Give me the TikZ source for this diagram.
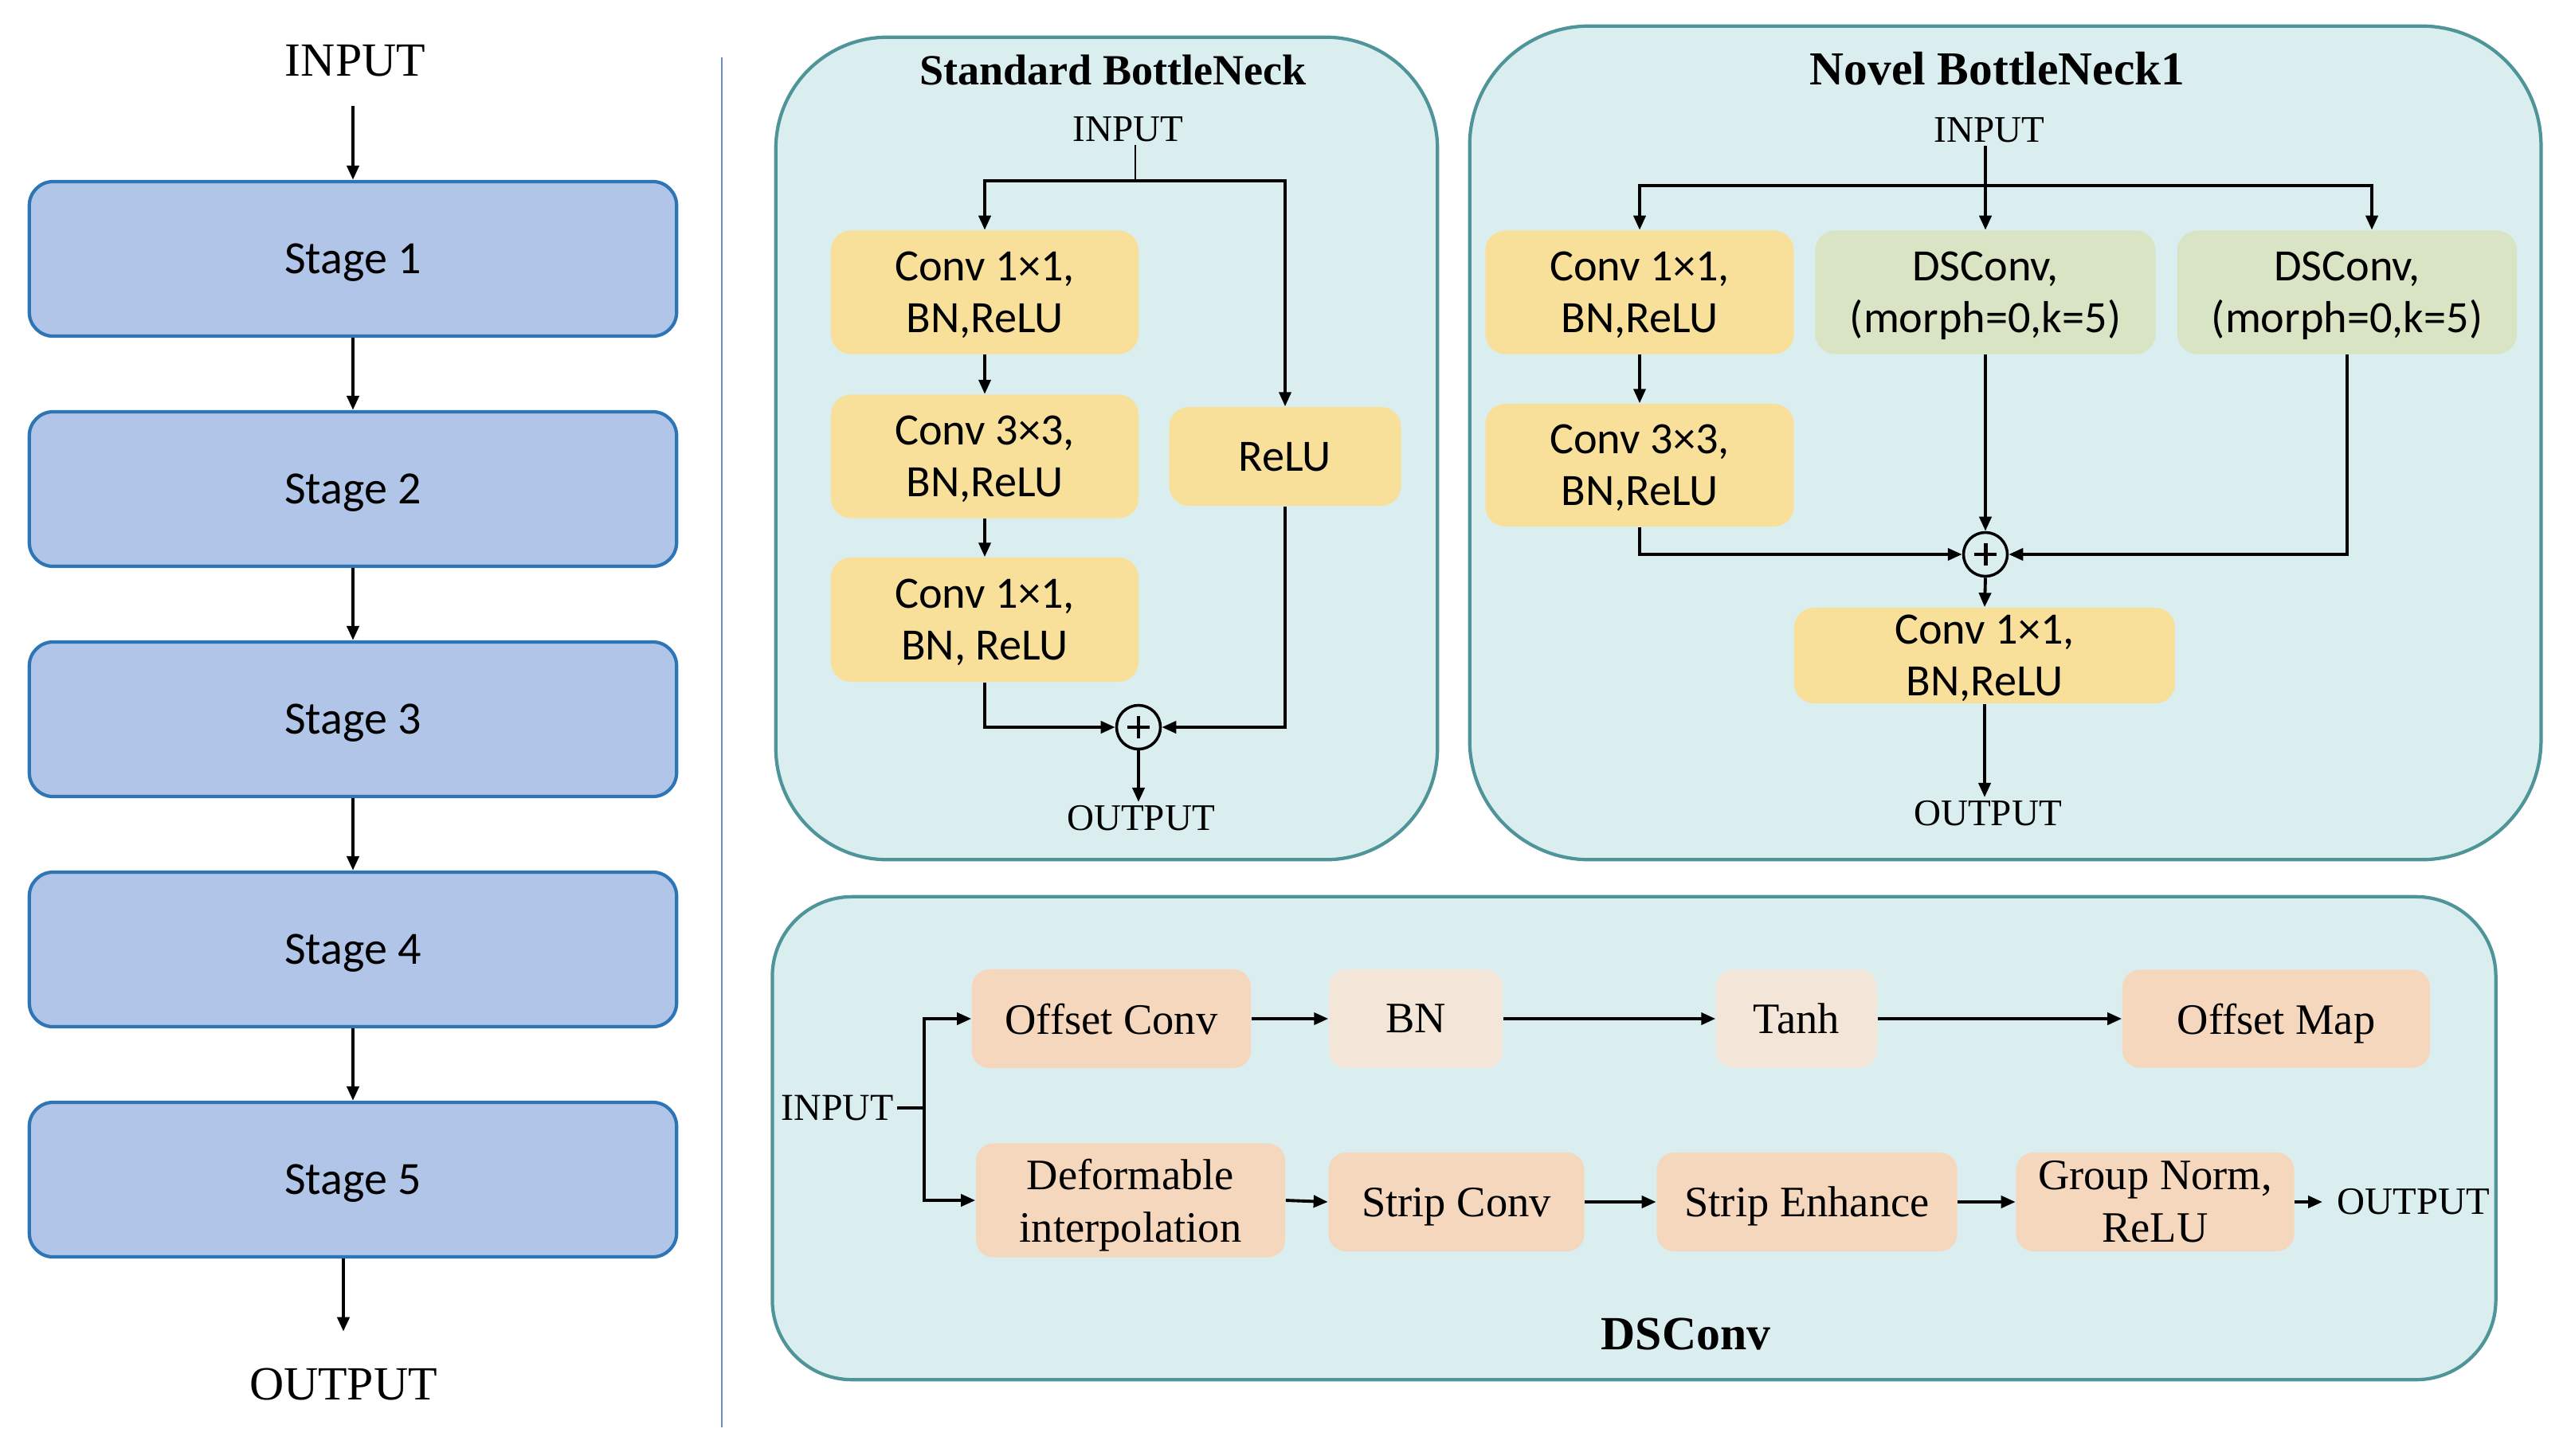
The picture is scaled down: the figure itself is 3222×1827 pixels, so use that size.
\documentclass[tikz,border=0pt]{standalone}
\usepackage{fontspec}
\setmainfont{Liberation Serif}
\newfontfamily\calfont{Carlito}
\usetikzlibrary{arrows.meta}
\definecolor{stagefill}{HTML}{B0C5E7}
\definecolor{stagedraw}{HTML}{2E75B6}
\definecolor{panelfill}{HTML}{DAEEF0}
\definecolor{paneldraw}{HTML}{4E9499}
\definecolor{yel}{HTML}{F8E09A}
\definecolor{grn}{HTML}{D8E4C3}
\definecolor{pch}{HTML}{F5D7BE}
\definecolor{lpch}{HTML}{F3E6D8}
\definecolor{divline}{HTML}{6A8FD0}
\begin{document}
\begin{tikzpicture}[x=0.01cm,y=-0.01cm,
  stagebox/.style={draw=stagedraw, line width=1.2pt, fill=stagefill, rounded corners=0.3cm,
    minimum width=8.12cm, minimum height=1.94cm, text depth=0pt,
    font=\calfont\fontsize{16.5}{20}\selectfont},
  panel/.style={draw=paneldraw, line width=1.2pt, fill=panelfill},
  cbox/.style={rounded corners=0.25cm, align=center, inner sep=0pt,
    font=\calfont\fontsize{16}{18.5}\selectfont},
  tbox/.style={rounded corners=0.22cm, align=center, inner sep=0pt,
    font=\fontsize{15.5}{18.8}\selectfont},
  oneline/.style={text depth=0pt},
  biglbl/.style={inner sep=1pt, font=\fontsize{17}{20}\selectfont},
  smlbl/.style={inner sep=1pt, font=\fontsize{13.4}{16}\selectfont},
  arr/.style={line width=1.1pt, -{Triangle[length=0.18cm,width=0.15cm]}},
  plain/.style={line width=1.1pt},
  plusnode/.style={circle, draw, line width=1pt, minimum size=0.55cm, inner sep=0pt,
    path picture={\draw[line width=1.4pt]
      ([xshift=-0.14cm]path picture bounding box.center) -- ([xshift=0.14cm]path picture bounding box.center)
      ([yshift=-0.14cm]path picture bounding box.center) -- ([yshift=0.14cm]path picture bounding box.center);}}
]
\useasboundingbox (0,0) rectangle (3222,1827);

% ---------------- left column ----------------
\node[biglbl] (inL) at (446,76) {INPUT};
\node[stagebox] (st1) at (443,325) {Stage 1};
\node[stagebox] (st2) at (443,614) {Stage 2};
\node[stagebox] (st3) at (443,903) {Stage 3};
\node[stagebox] (st4) at (443,1192) {Stage 4};
\node[stagebox] (st5) at (443,1481) {Stage 5};
\node[biglbl] (outL) at (431,1738) {OUTPUT};
\draw[arr, line width=1.2pt, shorten <=0.33cm] (inL.south -| st1.north) -- (st1.north);
\draw[arr, line width=1.2pt] (st1.south) -- (st2.north);
\draw[arr, line width=1.2pt] (st2.south) -- (st3.north);
\draw[arr, line width=1.2pt] (st3.south) -- (st4.north);
\draw[arr, line width=1.2pt] (st4.south) -- (st5.north);
\draw[arr, line width=1.2pt, shorten >=0.42cm] (st5.south -| outL) -- (outL.north);

\draw[divline, line width=0.8pt] (906,72) -- (906,1792);

% ---------------- panels ----------------
\node[panel, rounded corners=1.4cm, minimum width=8.30cm, minimum height=10.32cm] (pStd) at (1389,563) {};
\node[panel, rounded corners=1.5cm, minimum width=13.44cm, minimum height=10.46cm] (pNov) at (2517,556) {};
\node[panel, rounded corners=1.0cm, minimum width=21.62cm, minimum height=6.06cm] (pDS) at (2051,1429) {};

% ---------------- Standard BottleNeck ----------------
\node[inner sep=1pt, font=\bfseries\fontsize{15.4}{18}\selectfont] (tStd) at (1397,88) {Standard BottleNeck};
\node[smlbl] (stIn) at (1416,162) {INPUT};
\node[cbox, fill=yel, minimum width=3.86cm, minimum height=1.55cm] (sA) at (1236,367) {Conv 1×1,\\\smash{BN,ReLU}};
\node[cbox, fill=yel, minimum width=3.86cm, minimum height=1.55cm] (sB) at (1236,573) {Conv 3×3,\\\smash{BN,ReLU}};
\node[cbox, fill=yel, minimum width=3.86cm, minimum height=1.56cm] (sC) at (1236,778) {Conv 1×1,\\\smash{BN, ReLU}};
\node[cbox, oneline, fill=yel, minimum width=2.91cm, minimum height=1.24cm] (sD) at (1613,573) {ReLU};
\node[plusnode] (sP) at (1429,913) {};
\node[smlbl] (stOut) at (1432,1027) {OUTPUT};
\coordinate (sJ) at (1425,227);
\draw[line width=0.6pt] (sJ |- stIn.south) -- (sJ);
\draw[arr] (sJ) -| (sA.north);
\draw[arr] (sJ) -| (sD.north);
\draw[arr] (sA.south) -- (sB.north);
\draw[arr] (sB.south) -- (sC.north);
\draw[arr] (sC.south) |- (sP.west);
\draw[arr] (sD.south) |- (sP.east);
\draw[arr] (sP.south) -- (sP.south |- stOut.north);

% ---------------- Novel BottleNeck1 ----------------
\node[inner sep=1pt, font=\bfseries\fontsize{16.9}{19}\selectfont] (tNov) at (2507,86) {Novel BottleNeck1};
\node[smlbl] (nvIn) at (2497,163) {INPUT};
\node[cbox, fill=yel, minimum width=3.87cm, minimum height=1.55cm] (nE) at (2058,367) {Conv 1×1,\\\smash{BN,ReLU}};
\node[cbox, fill=grn, minimum width=4.27cm, minimum height=1.55cm] (nF) at (2492,367) {DSConv,\\\smash{(morph=0,k=5)}};
\node[cbox, fill=grn, minimum width=4.26cm, minimum height=1.55cm] (nG) at (2946,367) {DSConv,\\\smash{(morph=0,k=5)}};
\node[cbox, fill=yel, minimum width=3.87cm, minimum height=1.54cm] (nH) at (2058,584) {Conv 3×3,\\\smash{BN,ReLU}};
\node[plusnode] (nP) at (2492,696) {};
\node[cbox, fill=yel, minimum width=4.78cm, minimum height=1.20cm] (nI) at (2491,823) {Conv 1×1,\\\smash{BN,ReLU}};
\node[smlbl] (nvOut) at (2495,1021) {OUTPUT};
\coordinate (nJ) at (2492,233);
\draw[arr] (nF.north |- nvIn.south) -- (nF.north);
\draw[plain] (nE.north |- nJ) -- ([xshift=0.31cm]nG.north |- nJ);
\draw[arr] (nJ) -| (nE.north);
\draw[arr] (nJ) -| ([xshift=0.31cm]nG.north);
\draw[arr] (nE.south) -- (nH.north);
\draw[arr] (nH.south) |- (nP.west);
\draw[arr] (nF.south) -- (nP.north);
\draw[arr] (nG.south) |- (nP.east);
\draw[arr] (nP.south) -- (nI.north);
\draw[arr] (nI.south) -- (nI.south |- nvOut.north);

% ---------------- DSConv ----------------
\node[tbox, oneline, fill=pch, minimum width=3.50cm, minimum height=1.24cm] (dOC) at (1395,1279) {Offset Conv};
\node[tbox, oneline, fill=lpch, minimum width=2.18cm, minimum height=1.24cm] (dBN) at (1777,1279) {BN};
\node[tbox, oneline, fill=lpch, minimum width=2.02cm, minimum height=1.23cm] (dTa) at (2255,1279) {Tanh};
\node[tbox, oneline, fill=pch, minimum width=3.86cm, minimum height=1.23cm] (dOM) at (2857,1279) {Offset Map};
\node[tbox, fill=pch, minimum width=3.88cm, minimum height=1.43cm] (dDI) at (1419,1507) {Deformable\\\smash{interpolation}};
\node[tbox, oneline, fill=pch, minimum width=3.21cm, minimum height=1.24cm] (dSC) at (1828,1509) {Strip Conv};
\node[tbox, oneline, fill=pch, minimum width=3.77cm, minimum height=1.24cm] (dSE) at (2268,1509) {Strip Enhance};
\node[tbox, fill=pch, minimum width=3.49cm, minimum height=1.24cm] (dGN) at (2705,1509) {Group Norm,\\ReLU};
\node[smlbl, font=\fontsize{13.6}{16}\selectfont] (dIn) at (1051,1391) {INPUT};
\node[smlbl, font=\fontsize{13.8}{16}\selectfont, inner sep=5pt] (dOut) at (3029,1509) {OUTPUT};
\node[inner sep=1pt, font=\bfseries\fontsize{17}{20}\selectfont] (tDS) at (2116,1675) {DSConv};
\coordinate (dJ) at (1160,1391);
\draw[plain] (dIn.east) -- (dJ);
\draw[arr] (dJ) |- (dOC.west);
\draw[arr] (dJ) |- (dDI.west);
\draw[arr] (dOC.east) -- (dBN.west);
\draw[arr] (dBN.east) -- (dTa.west);
\draw[arr] (dTa.east) -- (dOM.west);
\draw[arr] (dDI.east) -- (dSC.west);
\draw[arr] (dSC.east) -- (dSE.west);
\draw[arr] (dSE.east) -- (dGN.west);
\draw[arr] (dGN.east) -- (dOut.west);
\end{tikzpicture}
\end{document}
